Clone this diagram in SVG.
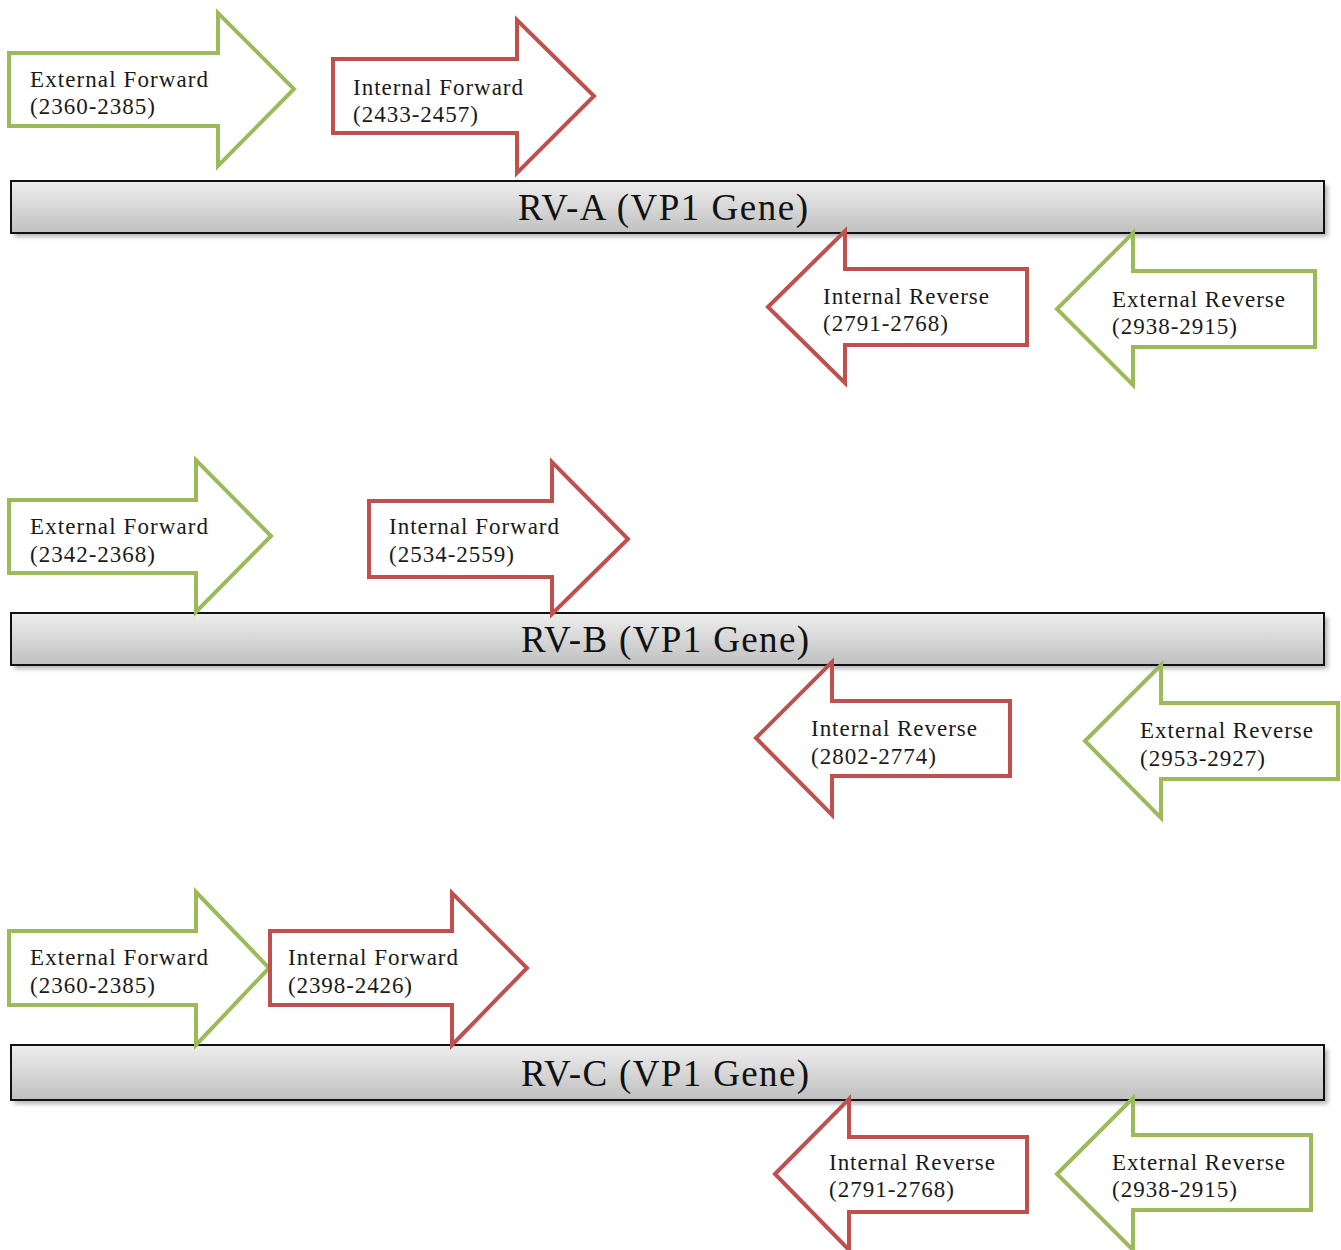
<svg xmlns="http://www.w3.org/2000/svg" width="1341" height="1250" viewBox="0 0 1341 1250">
<style>
.g{fill:#ffffff;stroke:#9bbb59;stroke-width:4;stroke-linejoin:miter}
.r{fill:#ffffff;stroke:#c0504d;stroke-width:4;stroke-linejoin:miter}
.t{font-family:"Liberation Serif","Times New Roman",serif;font-size:23px;fill:#1a1a1a}
.bar{fill:url(#barg);stroke:#111111;stroke-width:2}
.sh{fill:#888888;opacity:0.6;filter:url(#blur)}
.bt{font-family:"Liberation Serif","Times New Roman",serif;font-size:37px;fill:#111111;text-anchor:middle}
</style>
<defs>
<linearGradient id="barg" x1="0" y1="0" x2="0" y2="1">
<stop offset="0" stop-color="#eeeeee"/>
<stop offset="1" stop-color="#c0c0c0"/>
</linearGradient>
<filter id="blur" x="-5%" y="-50%" width="110%" height="200%"><feGaussianBlur stdDeviation="2"/></filter>
</defs>
<rect width="1341" height="1250" fill="#ffffff"/>

<!-- Row A -->
<g id="geneA">
<rect class="sh" x="14" y="185" width="1314" height="52"/>
<rect class="bar" x="11" y="181" width="1313" height="52"/>
<text class="bt" x="663" y="220" textLength="290" lengthAdjust="spacing">RV-A (VP1 Gene)</text>
</g>
<g id="A_ext_fwd">
<polygon class="g" points="9,53 218,53 218,13 294,89 218,166 218,126 9,126"/>
<text class="t" x="30" y="87" textLength="178" lengthAdjust="spacing">External Forward</text>
<text class="t" x="30" y="114" textLength="125" lengthAdjust="spacing">(2360-2385)</text>
</g>
<g id="A_int_fwd">
<polygon class="r" points="333,59 517,59 517,20 594,96 517,173 517,133 333,133"/>
<text class="t" x="353" y="95" textLength="170" lengthAdjust="spacing">Internal Forward</text>
<text class="t" x="353" y="122" textLength="125" lengthAdjust="spacing">(2433-2457)</text>
</g>
<g id="A_int_rev">
<polygon class="r" points="768,307 845,231 845,269 1027,269 1027,345 845,345 845,383"/>
<text class="t" x="823" y="304" textLength="166" lengthAdjust="spacing">Internal Reverse</text>
<text class="t" x="823" y="331" textLength="125" lengthAdjust="spacing">(2791-2768)</text>
</g>
<g id="A_ext_rev">
<polygon class="g" points="1057,309 1133,233 1133,271 1315,271 1315,347 1133,347 1133,385"/>
<text class="t" x="1112" y="307" textLength="173" lengthAdjust="spacing">External Reverse</text>
<text class="t" x="1112" y="334" textLength="125" lengthAdjust="spacing">(2938-2915)</text>
</g>

<!-- Row B -->
<g id="geneB">
<rect class="sh" x="14" y="617" width="1314" height="52"/>
<rect class="bar" x="11" y="613" width="1313" height="52"/>
<text class="bt" x="665" y="652" textLength="288" lengthAdjust="spacing">RV-B (VP1 Gene)</text>
</g>
<g id="B_ext_fwd">
<polygon class="g" points="9,500 196,500 196,460 271,536 196,612 196,573 9,573"/>
<text class="t" x="30" y="534" textLength="178" lengthAdjust="spacing">External Forward</text>
<text class="t" x="30" y="562" textLength="125" lengthAdjust="spacing">(2342-2368)</text>
</g>
<g id="B_int_fwd">
<polygon class="r" points="369,501 552,501 552,462 628,539 552,614 552,577 369,577"/>
<text class="t" x="389" y="534" textLength="170" lengthAdjust="spacing">Internal Forward</text>
<text class="t" x="389" y="562" textLength="125" lengthAdjust="spacing">(2534-2559)</text>
</g>
<g id="B_int_rev">
<polygon class="r" points="756,738 832,662 832,701 1010,701 1010,776 832,776 832,815"/>
<text class="t" x="811" y="736" textLength="166" lengthAdjust="spacing">Internal Reverse</text>
<text class="t" x="811" y="764" textLength="125" lengthAdjust="spacing">(2802-2774)</text>
</g>
<g id="B_ext_rev">
<polygon class="g" points="1085,741 1161,665 1161,703 1338,703 1338,779 1161,779 1161,818"/>
<text class="t" x="1140" y="738" textLength="173" lengthAdjust="spacing">External Reverse</text>
<text class="t" x="1140" y="766" textLength="125" lengthAdjust="spacing">(2953-2927)</text>
</g>

<!-- Row C -->
<g id="geneC">
<rect class="sh" x="14" y="1049" width="1314" height="55"/>
<rect class="bar" x="11" y="1045" width="1313" height="55"/>
<text class="bt" x="665" y="1086" textLength="288" lengthAdjust="spacing">RV-C (VP1 Gene)</text>
</g>
<g id="C_ext_fwd">
<polygon class="g" points="9,931 196,931 196,892 269,968 196,1045 196,1005 9,1005"/>
<text class="t" x="30" y="965" textLength="178" lengthAdjust="spacing">External Forward</text>
<text class="t" x="30" y="993" textLength="125" lengthAdjust="spacing">(2360-2385)</text>
</g>
<g id="C_int_fwd">
<polygon class="r" points="270,931 452,931 452,893 527,968 452,1045 452,1005 270,1005"/>
<text class="t" x="288" y="965" textLength="170" lengthAdjust="spacing">Internal Forward</text>
<text class="t" x="288" y="993" textLength="124" lengthAdjust="spacing">(2398-2426)</text>
</g>
<g id="C_int_rev">
<polygon class="r" points="775,1174 849,1099 849,1137 1027,1137 1027,1212 849,1212 849,1250"/>
<text class="t" x="829" y="1170" textLength="166" lengthAdjust="spacing">Internal Reverse</text>
<text class="t" x="829" y="1197" textLength="125" lengthAdjust="spacing">(2791-2768)</text>
</g>
<g id="C_ext_rev">
<polygon class="g" points="1057,1174 1133,1098 1133,1135 1311,1135 1311,1210 1133,1210 1133,1250"/>
<text class="t" x="1112" y="1170" textLength="173" lengthAdjust="spacing">External Reverse</text>
<text class="t" x="1112" y="1197" textLength="125" lengthAdjust="spacing">(2938-2915)</text>
</g>
<g id="connectors"/>
</svg>
